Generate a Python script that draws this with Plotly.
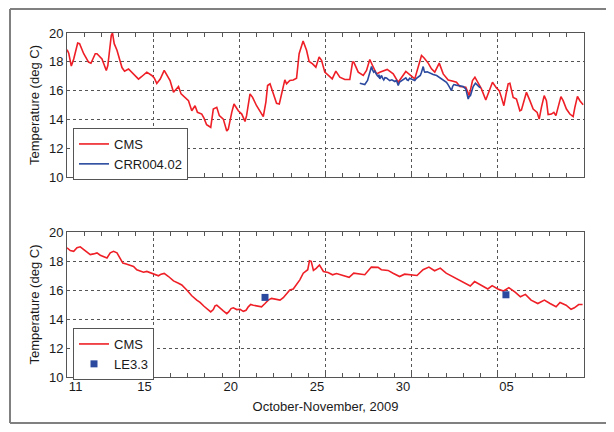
import numpy as np
import pandas as pd
import plotly.graph_objects as go

# ---- data (x = day of October 2009; November days continue past 31) ----
cms_top_day = [10.0, 10.1, 10.25, 10.39, 10.62, 10.73, 10.97, 11.25, 11.39, 11.64, 11.74, 12.03, 12.28, 12.37,
               12.57, 12.64, 12.74, 12.9, 13.19, 13.34, 13.57, 13.76, 14.15, 14.34, 14.63, 14.92, 15.06, 15.21,
               15.41, 15.64, 15.79, 15.98, 16.18, 16.37, 16.47, 16.62, 16.85, 17.05, 17.24, 17.43, 17.57, 17.82,
               17.95, 18.1, 18.2, 18.34, 18.49, 18.69, 18.84, 19.07, 19.27, 19.36, 19.56, 19.69, 19.94, 20.14,
               20.33, 20.42, 20.62, 20.77, 21.0, 21.2, 21.39, 21.54, 21.64, 21.78, 21.97, 22.16, 22.32, 22.45,
               22.64, 22.74, 22.93, 23.13, 23.32, 23.47, 23.55, 23.7, 23.9, 24.05, 24.25, 24.44, 24.63, 24.77,
               24.96, 25.25, 25.39, 25.6, 25.83, 26.12, 26.41, 26.57, 26.64, 26.9, 27.19, 27.38, 27.57, 27.73,
               27.96, 28.15, 28.58, 28.93, 29.22, 29.66, 29.95, 30.18, 30.57, 30.71, 30.96, 31.15, 31.34, 31.6,
               31.83, 32.12, 32.41, 32.6, 32.8, 33.14, 33.34, 33.53, 33.67, 33.86, 34.05, 34.3, 34.5, 34.69,
               34.92, 35.08, 35.21, 35.35, 35.46, 35.6, 35.7, 35.89, 36.08, 36.28, 36.37, 36.57, 36.66, 36.86,
               37.05, 37.28, 37.4, 37.53, 37.69, 37.82, 37.92, 38.11, 38.25, 38.37, 38.5, 38.66, 38.79, 38.98,
               39.18, 39.37, 39.47, 39.62, 39.76, 39.95]
cms_top_temp = [18.84, 18.6, 17.7, 18.2, 19.3, 19.26, 18.56, 17.98, 17.9, 18.56, 18.56, 18.2, 17.4, 17.74,
                19.84, 20.0, 19.26, 18.8, 17.6, 17.35, 17.5, 17.28, 16.8, 16.98, 17.28, 17.05, 16.88, 16.5,
                16.8, 17.4, 17.05, 16.7, 15.88, 16.1, 16.28, 15.77, 15.53, 15.3, 14.6, 14.95, 14.49, 14.37,
                14.09, 13.63, 13.56, 13.44, 14.72, 14.84, 14.26, 14.02, 13.2, 13.33, 14.49, 15.07, 14.6, 14.37,
                13.86, 14.26, 15.77, 15.53, 14.95, 14.6, 14.19, 15.19, 16.35, 16.47, 15.77, 15.12, 15.07, 15.77,
                16.74, 16.47, 16.7, 16.74, 16.86, 18.56, 18.9, 19.44, 18.8, 18.02, 17.86, 17.63, 18.33, 18.1,
                17.28, 16.93, 16.81, 17.35, 16.93, 16.77, 16.77, 17.98, 17.98, 17.28, 17.05, 17.4, 18.16, 17.74,
                17.16, 17.28, 17.47, 17.16, 16.58, 17.33, 17.05, 16.81, 18.44, 18.28, 17.91, 17.51, 17.28, 17.91,
                17.16, 16.74, 16.65, 16.58, 16.28, 16.23, 15.65, 16.7, 16.93, 16.51, 16.12, 15.35, 16.0, 16.58,
                16.19, 16.0, 15.53, 14.95, 15.65, 16.47, 16.51, 15.53, 15.42, 14.6, 14.65, 15.42, 15.88, 15.3,
                14.72, 14.49, 14.02, 14.84, 15.65, 15.3, 14.33, 14.37, 14.49, 14.26, 14.95, 15.58, 15.3, 14.72,
                14.37, 14.19, 14.84, 15.6, 15.3, 15.02]

crr_day = [26.99, 27.15, 27.28, 27.44, 27.57, 27.67, 27.74, 27.8, 27.86, 27.92, 28.0, 28.06, 28.1, 28.15,
           28.2, 28.25, 28.32, 28.38, 28.45, 28.54, 28.62, 28.73, 28.85, 29.02, 29.12, 29.22, 29.3, 29.41,
           29.52, 29.66, 29.73, 29.8, 29.88, 29.95, 30.05, 30.18, 30.28, 30.38, 30.5, 30.57, 30.67, 30.72,
           30.76, 30.9, 31.05, 31.25, 31.45, 31.64, 31.85, 32.02, 32.12, 32.21, 32.31, 32.38, 32.45, 32.58,
           32.7, 32.85, 32.99, 33.14, 33.22, 33.28, 33.34, 33.41, 33.5, 33.57, 33.7, 33.78, 33.86, 33.93, 34.01]
crr_temp = [16.51, 16.45, 16.42, 16.7, 17.28, 17.67, 17.4, 17.28, 17.35, 17.16, 17.05, 16.98, 17.1, 16.81,
            17.0, 17.05, 16.85, 16.74, 16.9, 16.88, 16.8, 16.7, 16.75, 16.63, 16.7, 16.35, 16.6, 16.7,
            16.75, 16.88, 16.75, 16.7, 16.85, 16.81, 16.75, 16.7, 16.85, 16.93, 17.05, 17.28, 17.67, 17.4,
            17.28, 17.3, 17.21, 17.12, 17.05, 16.88, 16.75, 16.58, 16.4, 16.19, 16.0, 16.3, 16.42, 16.38,
            16.35, 16.35, 16.28, 16.12, 15.8, 15.42, 15.6, 15.65, 16.0, 16.28, 16.51, 16.4, 16.28, 16.25, 16.19]

cms_bot_day = [10.0, 10.19, 10.39, 10.58, 10.77, 10.97, 11.16, 11.35, 11.54, 11.74, 11.93, 12.12, 12.32, 12.51,
               12.7, 12.9, 13.09, 13.24, 13.44, 13.67, 13.86, 14.05, 14.25, 14.44, 14.63, 14.92, 15.12, 15.31,
               15.46, 15.64, 15.89, 16.18, 16.47, 16.66, 16.95, 17.24, 17.53, 17.72, 17.95, 18.15, 18.34, 18.49,
               18.59, 18.69, 18.88, 19.07, 19.27, 19.38, 19.52, 19.65, 19.85, 20.04, 20.23, 20.39, 20.52, 20.66,
               20.81, 21.0, 21.29, 21.49, 21.68, 21.87, 22.07, 22.36, 22.55, 22.74, 22.93, 23.13, 23.32, 23.51,
               23.71, 23.84, 23.97, 24.07, 24.17, 24.3, 24.46, 24.65, 24.88, 25.15, 25.41, 25.64, 25.93, 26.37,
               26.64, 26.99, 27.28, 27.66, 28.05, 28.24, 28.63, 28.92, 29.3, 29.59, 30.0, 30.31, 30.66, 31.0,
               31.33, 31.66, 32.0, 32.36, 32.68, 33.07, 33.4, 33.65, 34.03, 34.42, 34.67, 35.0, 35.33, 35.64,
               36.02, 36.31, 36.6, 36.93, 37.32, 37.7, 38.03, 38.38, 38.61, 38.96, 39.25, 39.44, 39.69, 39.92]
cms_bot_temp = [18.91, 18.72, 18.67, 18.91, 18.98, 18.79, 18.67, 18.44, 18.49, 18.56, 18.4, 18.28, 18.21, 18.56,
                18.67, 18.56, 18.21, 17.86, 17.79, 17.7, 17.63, 17.4, 17.33, 17.23, 17.28, 17.16, 17.09, 16.98,
                17.09, 17.14, 16.93, 16.63, 16.47, 16.35, 16.0, 15.6, 15.3, 15.14, 14.88, 14.67, 14.49, 14.65,
                14.91, 14.95, 14.72, 14.56, 14.37, 14.49, 14.72, 14.77, 14.65, 14.67, 14.53, 14.6, 14.84, 15.0,
                14.95, 14.91, 14.84, 15.07, 15.3, 15.42, 15.35, 15.3, 15.47, 15.77, 16.0, 16.07, 16.35, 16.7,
                17.16, 17.28, 17.4, 18.02, 17.98, 17.35, 17.49, 17.72, 17.28, 17.21, 17.05, 17.14, 17.05, 16.88,
                17.16, 17.09, 17.05, 17.58, 17.56, 17.4, 17.35, 17.16, 16.93, 17.09, 17.05, 17.0, 17.4, 17.58,
                17.33, 17.51, 17.16, 16.93, 16.77, 16.47, 16.28, 16.58, 16.35, 16.07, 16.3, 16.07, 15.93, 16.16,
                15.84, 15.53, 15.7, 15.3, 15.07, 15.3, 15.07, 14.84, 15.14, 14.95, 14.67, 14.77, 15.0, 15.0]

le_day = [21.49, 35.47]
le_temp = [15.49, 15.67]

grid_dates = ["2009-10-15", "2009-10-20", "2009-10-25", "2009-10-30", "2009-11-04"]
label_dates = ["2009-10-11", "2009-10-15", "2009-10-20", "2009-10-25", "2009-10-30", "2009-11-05"]
label_text = ["11", "15", "20", "25", "30", "05"]
y_ticks = [10, 12, 14, 16, 18, 20]
x_range = ["2009-10-10", "2009-11-09"]

# ---- helpers ----
base = pd.Timestamp("2009-09-30")


def to_dt(days):
    return [base + pd.Timedelta(days=float(v)) for v in days]


label_pos = [pd.Timestamp(d) - pd.Timedelta(hours=12) for d in label_dates]

RED = "#ee1f26"
BLUE = "#2b4a9f"
AX = "#555555"
FONT = "Liberation Sans, Arial, sans-serif"
TXT = "#1a1a1a"

# figure sits 8px inside the page (body margin); sizes below are in figure px
W, H = 598, 416
ML, MT = 59, 25
PW, PH = 517, 344
MR = W - ML - PW
MB = H - MT - PH

fig = go.Figure()
fig.add_trace(go.Scatter(x=to_dt(cms_top_day), y=cms_top_temp, mode="lines", name="CMS",
                         line=dict(color=RED, width=1.6), xaxis="x", yaxis="y", legend="legend"))
fig.add_trace(go.Scatter(x=to_dt(crr_day), y=crr_temp, mode="lines", name="CRR004.02",
                         line=dict(color=BLUE, width=1.6), xaxis="x", yaxis="y", legend="legend"))
fig.add_trace(go.Scatter(x=to_dt(cms_bot_day), y=cms_bot_temp, mode="lines", name="CMS",
                         line=dict(color=RED, width=1.6), xaxis="x2", yaxis="y2", legend="legend2"))
fig.add_trace(go.Scatter(x=to_dt(le_day), y=le_temp, mode="markers", name="LE3.3",
                         marker=dict(color=BLUE, symbol="square", size=7), xaxis="x3", yaxis="y2",
                         legend="legend2"))

grid_axis = dict(type="date", range=x_range, tickmode="array", tickvals=grid_dates, showticklabels=False,
                 ticks="inside", ticklen=4, tickcolor=AX, showgrid=True, griddash="dot", gridcolor=AX,
                 gridwidth=1, showline=True, linecolor=AX, linewidth=1, mirror="ticks", zeroline=False,
                 minor=dict(dtick=86400000, tick0="2009-10-10", ticks="inside", ticklen=4, tickcolor=AX,
                            showgrid=False))
y_axis = dict(range=[10, 20], tickmode="array", tickvals=y_ticks, ticks="", showgrid=True, griddash="dot",
              gridcolor=AX, gridwidth=1, showline=True, linecolor=AX, linewidth=1, mirror=True, zeroline=False,
              tickfont=dict(size=13, color=TXT), title=dict(text="Temperature (deg C)", standoff=6,
                                                             font=dict(size=13, color=TXT)))

# outer frame: left, top and bottom edges (right edge lies off the page)
fx0 = (2 - ML) / PW
fx1 = (W - ML) / PW
fy0 = (MT + PH - (H - 1)) / PH
fy1 = (MT + PH - 1) / PH
frame_line = dict(color="#808080", width=2)
frame = [
    dict(type="line", xref="paper", yref="paper", x0=fx0, x1=fx0, y0=fy0, y1=fy1, line=frame_line, layer="below"),
    dict(type="line", xref="paper", yref="paper", x0=fx0, x1=fx1, y0=fy1, y1=fy1, line=frame_line, layer="below"),
    dict(type="line", xref="paper", yref="paper", x0=fx0, x1=fx1, y0=fy0, y1=fy0, line=frame_line, layer="below"),
]

fig.update_layout(
    width=W, height=H, margin=dict(l=ML, r=MR, t=MT, b=MB, autoexpand=False),
    paper_bgcolor="white", plot_bgcolor="white",
    font=dict(family=FONT, size=13, color=TXT),
    xaxis=dict(grid_axis, anchor="y"),
    xaxis2=dict(grid_axis, anchor="y2"),
    xaxis3=dict(type="date", range=x_range, overlaying="x2", anchor="y2", side="bottom",
                tickmode="array", tickvals=label_pos, ticktext=label_text, ticks="", showgrid=False,
                showline=False, zeroline=False, tickfont=dict(size=13, color=TXT),
                title=dict(text="October-November, 2009", standoff=8, font=dict(size=13, color=TXT))),
    yaxis=dict(y_axis, domain=[(PH - 144) / PH, 1.0], anchor="x"),
    yaxis2=dict(y_axis, domain=[0.0, 145 / PH], anchor="x2"),
    legend=dict(x=6 / PW, y=(PH - 95) / PH, xanchor="left", yanchor="top", bgcolor="white",
                bordercolor=AX, borderwidth=1, font=dict(size=13, color=TXT), tracegroupgap=0),
    legend2=dict(x=6 / PW, y=49 / PH, xanchor="left", yanchor="top", bgcolor="white",
                 bordercolor=AX, borderwidth=1, font=dict(size=13, color=TXT), tracegroupgap=0),
    showlegend=True,
    shapes=frame,
)

fig.write_html("out.html")
